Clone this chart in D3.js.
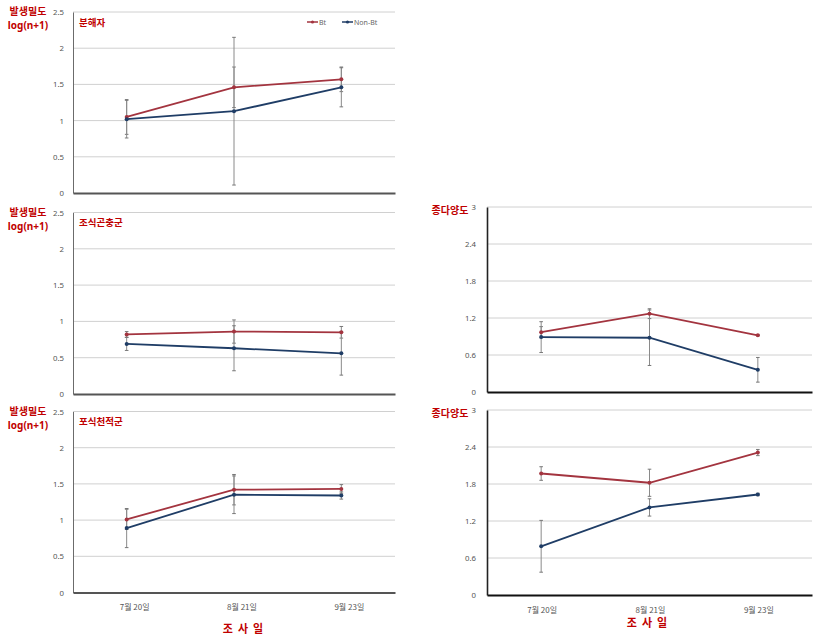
<!DOCTYPE html>
<html><head><meta charset="utf-8">
<script src="https://cdn.jsdelivr.net/npm/d3@7"></script>
<style>
html,body{margin:0;padding:0;background:#fff;}
svg{display:block;}
</style></head>
<body>
<svg id="chart" width="819" height="639"></svg>
<script>
// ---- data ----
const dates = ["7월 20일", "8월 21일", "9월 23일"];
const seriesNames = ["Bt", "Non-Bt"];
const densityTicks = [0, 0.5, 1, 1.5, 2, 2.5];
const diversityTicks = [0, 0.6, 1.2, 1.8, 2.4, 3];

const decomposerBt = [1.05, 1.46, 1.57];
const decomposerBtErr = [0.24, 0.28, 0.17];
const decomposerNonBt = [1.02, 1.13, 1.46];
const decomposerNonBtErr = [0.26, 1.02, 0.27];

const herbivoreBt = [0.82, 0.86, 0.85];
const herbivoreBtErr = [0.04, 0.16, 0.08];
const herbivoreNonBt = [0.69, 0.63, 0.56];
const herbivoreNonBtErr = [0.09, 0.31, 0.30];

const predatorBt = [1.01, 1.42, 1.43];
const predatorBtErr = [0.14, 0.21, 0.06];
const predatorNonBt = [0.89, 1.35, 1.34];
const predatorNonBtErr = [0.27, 0.26, 0.05];

const diversityABt = [0.97, 1.27, 0.92];
const diversityABtErr = [0.09, 0.08, 0.01];
const diversityANonBt = [0.89, 0.88, 0.36];
const diversityANonBtErr = [0.25, 0.45, 0.20];

const diversityBBt = [1.97, 1.82, 2.31];
const diversityBBtErr = [0.11, 0.22, 0.05];
const diversityBNonBt = [0.79, 1.42, 1.63];
const diversityBNonBtErr = [0.42, 0.14, 0.02];

// ---- styles / layout ----
const colBt = "#a3343f", colNon = "#1f3d66", red = "#c00000";
const kfont = "'Noto Sans CJK KR', 'Noto Sans', sans-serif";
const lfont = "'Noto Sans', 'DejaVu Sans', sans-serif";
const svg = d3.select("#chart");

const panels = [
  {x0: 73, x1: 395, yTop: 12, yBot: 193, max: 2.5, ticks: densityTicks, ylab: ["발생밀도", "log(n+1)"], title: "분해자",
   bt: decomposerBt, btE: decomposerBtErr, nb: decomposerNonBt, nbE: decomposerNonBtErr, legend: true, side: "L"},
  {x0: 73, x1: 395, yTop: 212.5, yBot: 394, max: 2.5, ticks: densityTicks, ylab: ["발생밀도", "log(n+1)"], title: "조식곤충군",
   bt: herbivoreBt, btE: herbivoreBtErr, nb: herbivoreNonBt, nbE: herbivoreNonBtErr, side: "L"},
  {x0: 73, x1: 395, yTop: 411.5, yBot: 592.5, max: 2.5, ticks: densityTicks, ylab: ["발생밀도", "log(n+1)"], title: "포식천적군",
   bt: predatorBt, btE: predatorBtErr, nb: predatorNonBt, nbE: predatorNonBtErr, xlabels: true, side: "L"},
  {x0: 487, x1: 812, yTop: 207, yBot: 392, max: 3, ticks: diversityTicks, ylab: ["종다양도"],
   bt: diversityABt, btE: diversityABtErr, nb: diversityANonBt, nbE: diversityANonBtErr, side: "R"},
  {x0: 487, x1: 812, yTop: 410, yBot: 595, max: 3, ticks: diversityTicks, ylab: ["종다양도"],
   bt: diversityBBt, btE: diversityBBtErr, nb: diversityBNonBt, nbE: diversityBNonBtErr, xlabels: true, side: "R"}
];

panels.forEach(p => {
  const g = svg.append("g");
  const x = d3.scaleBand().domain(dates).range([p.x0, p.x1]);
  const y = d3.scaleLinear().domain([0, p.max]).range([p.yBot, p.yTop]);
  const cx = d => x(d) + x.bandwidth() / 2;

  // gridlines
  g.selectAll("line.grid").data(p.ticks.filter(t => t > 0)).enter().append("line")
    .attr("x1", p.x0).attr("x2", p.x1).attr("y1", d => y(d)).attr("y2", d => y(d))
    .attr("stroke", "#d0d0d0").attr("stroke-width", 1);

  // y axis
  const ya = d3.axisLeft(y).tickValues(p.ticks).tickSize(0).tickPadding(p.side === "L" ? 9 : 11)
    .tickFormat(d => d3.format("~g")(d));
  const yg = g.append("g").attr("transform", `translate(${p.x0},0)`).call(ya);
  yg.select(".domain").attr("stroke", p.side === "L" ? "#6b6b6b" : "#222").attr("stroke-width", p.side === "L" ? 1 : 1.6);
  yg.selectAll("text").attr("font-family", lfont).attr("font-size", 7.8).attr("fill", "#555");

  // x axis
  const xa = d3.axisBottom(x).tickSize(0).tickPadding(12);
  const xg = g.append("g").attr("transform", `translate(0,${p.yBot})`).call(xa);
  xg.select(".domain").attr("stroke", p.side === "L" ? "#555" : "#111").attr("stroke-width", 2);
  xg.selectAll("text").attr("font-family", kfont).attr("font-size", 8).attr("fill", "#555")
    .attr("dx", p.side === "L" ? 8 : 1)
    .style("display", p.xlabels ? null : "none");

  if (p.xlabels) {
    g.append("text").attr("x", p.side === "L" ? 243 : 647).attr("y", p.yBot + (p.side === "L" ? 40 : 32))
      .attr("text-anchor", "middle").attr("font-family", kfont).attr("font-weight", "bold")
      .attr("font-size", 11).attr("fill", red).style("white-space", "pre").text("조  사  일");
  }

  // y label
  if (p.side === "L") {
    g.append("text").attr("x", 28).attr("y", p.yTop + 3)
      .attr("text-anchor", "middle").attr("font-family", kfont).attr("font-weight", "bold")
      .attr("font-size", 10).attr("fill", red).text(p.ylab[0]);
    g.append("text").attr("x", 28).attr("y", p.yTop + 17)
      .attr("text-anchor", "middle").attr("font-family", lfont).attr("font-weight", "bold")
      .attr("font-size", 10).attr("fill", red).text(p.ylab[1]);
  } else {
    g.append("text").attr("x", 450).attr("y", p.yTop + 7)
      .attr("text-anchor", "middle").attr("font-family", kfont).attr("font-weight", "bold")
      .attr("font-size", 10).attr("fill", red).text(p.ylab[0]);
  }
  if (p.title) {
    g.append("text").attr("x", 79).attr("y", p.yTop + 13.5).attr("font-family", kfont)
      .attr("font-weight", "bold").attr("font-size", 9.5).attr("fill", red).text(p.title);
  }

  const series = [
    {v: p.bt, e: p.btE, c: colBt},
    {v: p.nb, e: p.nbE, c: colNon}
  ];
  // error bars
  series.forEach(s => {
    const eb = g.append("g");
    dates.forEach((d, i) => {
      const hi = y(s.v[i] + s.e[i]), lo = y(s.v[i] - s.e[i]);
      eb.append("line").attr("x1", cx(d)).attr("x2", cx(d)).attr("y1", hi).attr("y2", lo)
        .attr("stroke", "#8a8a8a").attr("stroke-width", 1);
      [hi, lo].forEach(yy => eb.append("line").attr("x1", cx(d) - 1.8).attr("x2", cx(d) + 1.8)
        .attr("y1", yy).attr("y2", yy).attr("stroke", "#777").attr("stroke-width", 1));
    });
  });
  // lines & markers
  series.forEach(s => {
    const line = d3.line().x((v, i) => cx(dates[i])).y(v => y(v));
    g.append("path").datum(s.v).attr("d", line).attr("fill", "none")
      .attr("stroke", s.c).attr("stroke-width", 1.8);
    g.selectAll(null).data(s.v).enter().append("circle")
      .attr("cx", (v, i) => cx(dates[i])).attr("cy", v => y(v)).attr("r", 2)
      .attr("fill", s.c);
  });

  if (p.legend) {
    const lg = g.append("g");
    const items = [{n: seriesNames[0], c: colBt, x: 307}, {n: seriesNames[1], c: colNon, x: 342}];
    items.forEach(it => {
      lg.append("line").attr("x1", it.x).attr("x2", it.x + 11).attr("y1", 22).attr("y2", 22)
        .attr("stroke", it.c).attr("stroke-width", 1.5);
      lg.append("circle").attr("cx", it.x + 5.5).attr("cy", 22).attr("r", 1.6).attr("fill", it.c);
      lg.append("text").attr("x", it.x + 12).attr("y", 24.5).attr("font-family", lfont)
        .attr("font-size", 7).attr("fill", "#666").text(it.n);
    });
  }
});
</script>
</body></html>
